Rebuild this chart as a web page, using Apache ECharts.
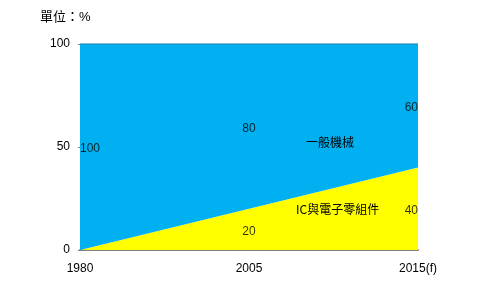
<!DOCTYPE html>
<html><head><meta charset="utf-8">
<script src="https://cdn.jsdelivr.net/npm/echarts@6/dist/echarts.min.js"></script>
<style>html,body{margin:0;padding:0;background:#fff}#c{width:481px;height:285px}</style>
</head><body><div id="c"></div>
<script>
const categories = ['1980', '2005', '2015(f)'];
const icValues = [0, 20, 40];
const machineryValues = [100, 80, 60];
const yTicks = [0, 50, 100];
const seriesNames = ['IC與電子零組件', '一般機械'];

const font = "'Liberation Sans', Arial, 'Noto Sans CJK TC', sans-serif";
const aligns = ['left', 'center', 'right'];

const icMid = icValues.map((v, i) => ({value: [categories[i], v / 2], raw: v, label: {show: v > 0, align: aligns[i]}}));
const machMid = machineryValues.map((v, i) => ({value: [categories[i], icValues[i] + v / 2], raw: v, label: {show: v > 0, align: aligns[i]}}));

const chart = echarts.init(document.getElementById('c'));
chart.setOption({
  animation: false,
  textStyle: {fontFamily: font},
  title: {text: '單位：%', left: 40, top: 11, padding: 0, textStyle: {fontSize: 13, fontWeight: 'normal', color: '#000', fontFamily: font}},
  grid: {left: 80, right: 63, top: 44, bottom: 35},
  xAxis: {
    type: 'category', data: categories, boundaryGap: false,
    axisLine: {lineStyle: {color: '#808080', width: 2}},
    axisTick: {show: false},
    axisLabel: {color: '#000', fontSize: 12, margin: 13, fontFamily: font}
  },
  yAxis: {
    type: 'value', min: yTicks[0], max: yTicks[yTicks.length - 1], interval: yTicks[1] - yTicks[0],
    splitLine: {show: false},
    axisLine: {show: false},
    axisTick: {show: true, length: 2, lineStyle: {color: '#808080'}},
    axisLabel: {color: '#000', fontSize: 12, margin: 10, fontFamily: font}
  },
  series: [
    {name: seriesNames[0], type: 'line', stack: 'a', data: icValues, symbol: 'none',
      lineStyle: {width: 0}, areaStyle: {color: '#FFFF00', opacity: 1}},
    {name: seriesNames[1], type: 'line', stack: 'a', data: machineryValues, symbol: 'none',
      lineStyle: {width: 1.5, color: '#1a8fc0'}, areaStyle: {color: '#00B0F0', opacity: 1}},
    {type: 'scatter', symbolSize: 0, data: icMid.concat(machMid), z: 5,
      label: {show: true, position: 'inside', offset: [0, 2], color: '#000', fontSize: 12, fontFamily: font,
        formatter: p => String(p.data.raw)}}
  ],
  graphic: [
    {type: 'text', z: 100, left: 306, top: 136, style: {text: seriesNames[1], font: "12px 'Noto Sans CJK TC'", fill: '#000'}},
    {type: 'text', z: 100, left: 296, top: 203, style: {text: seriesNames[0], font: "12px 'Noto Sans CJK TC'", fill: '#000'}}
  ]
});
</script></body></html>
